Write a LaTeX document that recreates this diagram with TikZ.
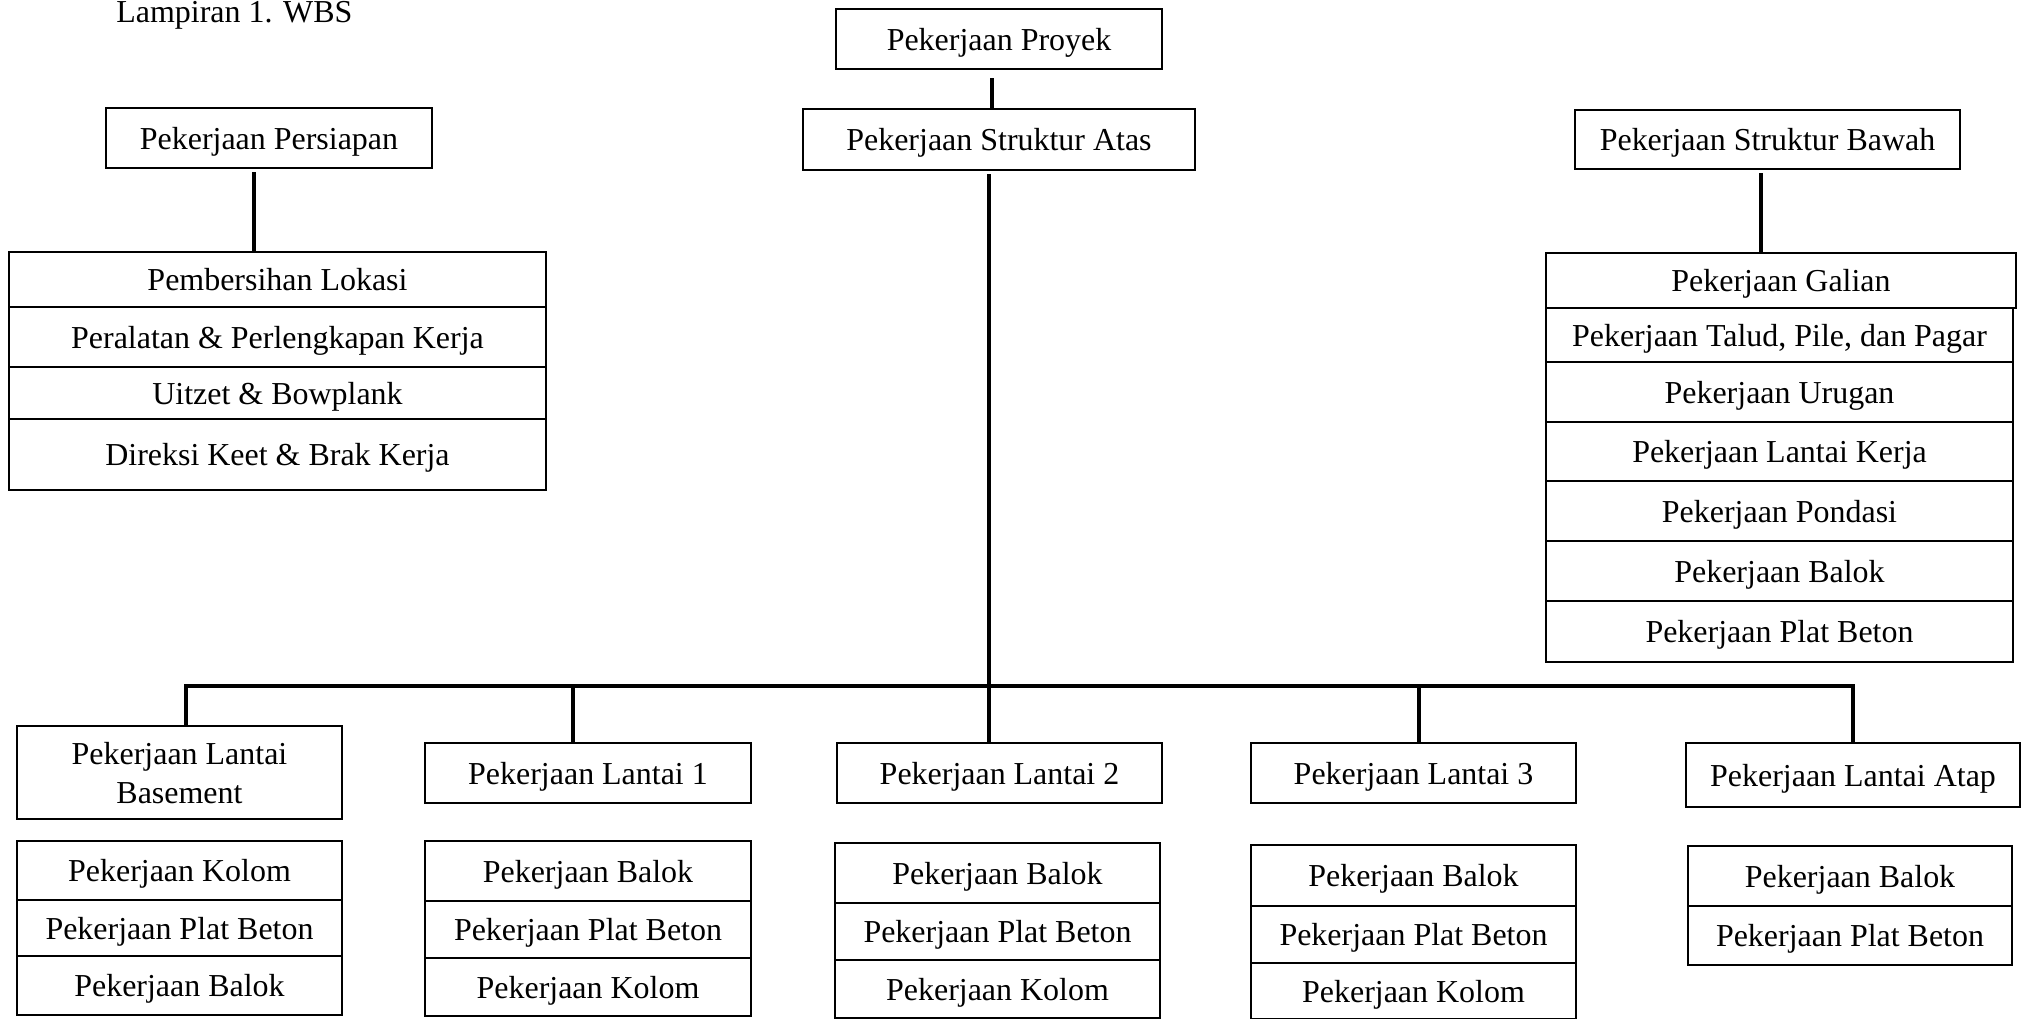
\documentclass[tikz,border=0pt]{standalone}
\usepackage{fontspec}
\setmainfont{Liberation Serif}
\usepackage{tikz}
\usetikzlibrary{positioning}

\newcommand{\px}{0.0132cm}
\tikzset{
  kotak/.style={draw, line width=0.9pt, inner sep=0pt, outer sep=0pt,
    align=center, text depth=0pt, font=\fontsize{12}{14.6}\selectfont},
  ukuran/.style 2 args={minimum width=#1*\px, minimum height=#2*\px},
  garis/.style={line width=1.5pt, line join=miter},
}

\begin{document}
\begin{tikzpicture}[x=\px, y=-\px]
\useasboundingbox (0,0) rectangle (2029,1018);

\node[anchor=base west, font=\fontsize{12}{14.6}\selectfont] (judul) at (107,22) {Lampiran 1. WBS};

% tingkat atas
\node[
  kotak,
  ukuran={326}{60},
  anchor=north west
] (proyek) at (836,9) {Pekerjaan Proyek};
\node[
  kotak,
  ukuran={392}{61},
  anchor=north west
] (atas) at (803,109) {Pekerjaan Struktur Atas};
\node[
  kotak,
  ukuran={326}{60},
  anchor=north west
] (persiapan) at (106,108) {Pekerjaan Persiapan};
\node[
  kotak,
  ukuran={385}{59},
  anchor=north west
] (bawah) at (1575,110) {Pekerjaan Struktur Bawah};

% daftar persiapan
\node[kotak, ukuran={537}{55}, anchor=north west] (ps1) at (9,252) {Pembersihan Lokasi};
\node[kotak, ukuran={537}{60}, below=0pt of ps1] (ps2) {Peralatan \& Perlengkapan Kerja};
\node[kotak, ukuran={537}{52}, below=0pt of ps2] (ps3) {Uitzet \& Bowplank};
\node[kotak, ukuran={537}{71}, below=0pt of ps3] (ps4) {Direksi Keet \& Brak Kerja};

% daftar struktur bawah
\node[kotak, ukuran={470}{55}, anchor=north west] (sb1) at (1546,253) {Pekerjaan Galian};
\node[kotak, ukuran={467}{54}, below=0pt of sb1.south west, anchor=north west] (sb2) {Pekerjaan Talud, Pile, dan Pagar};
\node[kotak, ukuran={467}{60}, below=0pt of sb2] (sb3) {Pekerjaan Urugan};
\node[kotak, ukuran={467}{59}, below=0pt of sb3] (sb4) {Pekerjaan Lantai Kerja};
\node[kotak, ukuran={467}{60}, below=0pt of sb4] (sb5) {Pekerjaan Pondasi};
\node[kotak, ukuran={467}{60}, below=0pt of sb5] (sb6) {Pekerjaan Balok};
\node[kotak, ukuran={467}{61}, below=0pt of sb6] (sb7) {Pekerjaan Plat Beton};

% lantai
\node[
  kotak,
  ukuran={325}{93},
  anchor=north west
] (basement) at (17,726) {Pekerjaan Lantai\\Basement};
\node[
  kotak,
  ukuran={326}{60},
  anchor=north west
] (lantai1) at (425,743) {Pekerjaan Lantai 1};
\node[
  kotak,
  ukuran={325}{60},
  anchor=north west
] (lantai2) at (837,743) {Pekerjaan Lantai 2};
\node[
  kotak,
  ukuran={325}{60},
  anchor=north west
] (lantai3) at (1251,743) {Pekerjaan Lantai 3};
\node[
  kotak,
  ukuran={334}{64},
  anchor=north west
] (atap) at (1686,743) {Pekerjaan Lantai Atap};

% daftar tiap lantai
\node[kotak, ukuran={325}{59}, anchor=north west] (bs1) at (17,841) {Pekerjaan Kolom};
\node[kotak, ukuran={325}{56}, below=0pt of bs1] (bs2) {Pekerjaan Plat Beton};
\node[kotak, ukuran={325}{59}, below=0pt of bs2] (bs3) {Pekerjaan Balok};

\node[kotak, ukuran={326}{60}, anchor=north west] (la1) at (425,841) {Pekerjaan Balok};
\node[kotak, ukuran={326}{57}, below=0pt of la1] (la2) {Pekerjaan Plat Beton};
\node[kotak, ukuran={326}{58}, below=0pt of la2] (la3) {Pekerjaan Kolom};

\node[kotak, ukuran={325}{60}, anchor=north west] (lb1) at (835,843) {Pekerjaan Balok};
\node[kotak, ukuran={325}{57}, below=0pt of lb1] (lb2) {Pekerjaan Plat Beton};
\node[kotak, ukuran={325}{58}, below=0pt of lb2] (lb3) {Pekerjaan Kolom};

\node[kotak, ukuran={325}{61}, anchor=north west] (lc1) at (1251,845) {Pekerjaan Balok};
\node[kotak, ukuran={325}{57}, below=0pt of lc1] (lc2) {Pekerjaan Plat Beton};
\node[kotak, ukuran={325}{56}, below=0pt of lc2] (lc3) {Pekerjaan Kolom};

\node[kotak, ukuran={324}{60}, anchor=north west] (ld1) at (1688,846) {Pekerjaan Balok};
\node[kotak, ukuran={324}{59}, below=0pt of ld1] (ld2) {Pekerjaan Plat Beton};

% garis penghubung
\coordinate (tengah) at (989,686);
\draw[garis, shorten <=9*\px] ([xshift=-7*\px]proyek.south) -- ([xshift=-7*\px]atas.north);
\draw[garis, shorten <=4*\px] ([xshift=-15*\px]persiapan.south) -- ([xshift=-15*\px]persiapan.south |- ps1.north);
\draw[garis, shorten <=4*\px] ([xshift=-7*\px]bawah.south) -- ([xshift=-7*\px]bawah.south |- sb1.north);
\draw[garis, shorten <=4*\px] (atas.south -| tengah) -- (tengah |- lantai2.north);
\draw[garis] ([xshift=6*\px]basement.north) -- ([xshift=6*\px]basement.north |- tengah)
  -- (atap.north |- tengah) -- (atap.north);
\draw[garis] ([xshift=-15*\px]lantai1.north) -- ([xshift=-15*\px]lantai1.north |- tengah);
\draw[garis] ([xshift=5*\px]lantai3.north) -- ([xshift=5*\px]lantai3.north |- tengah);
\end{tikzpicture}
\end{document}
